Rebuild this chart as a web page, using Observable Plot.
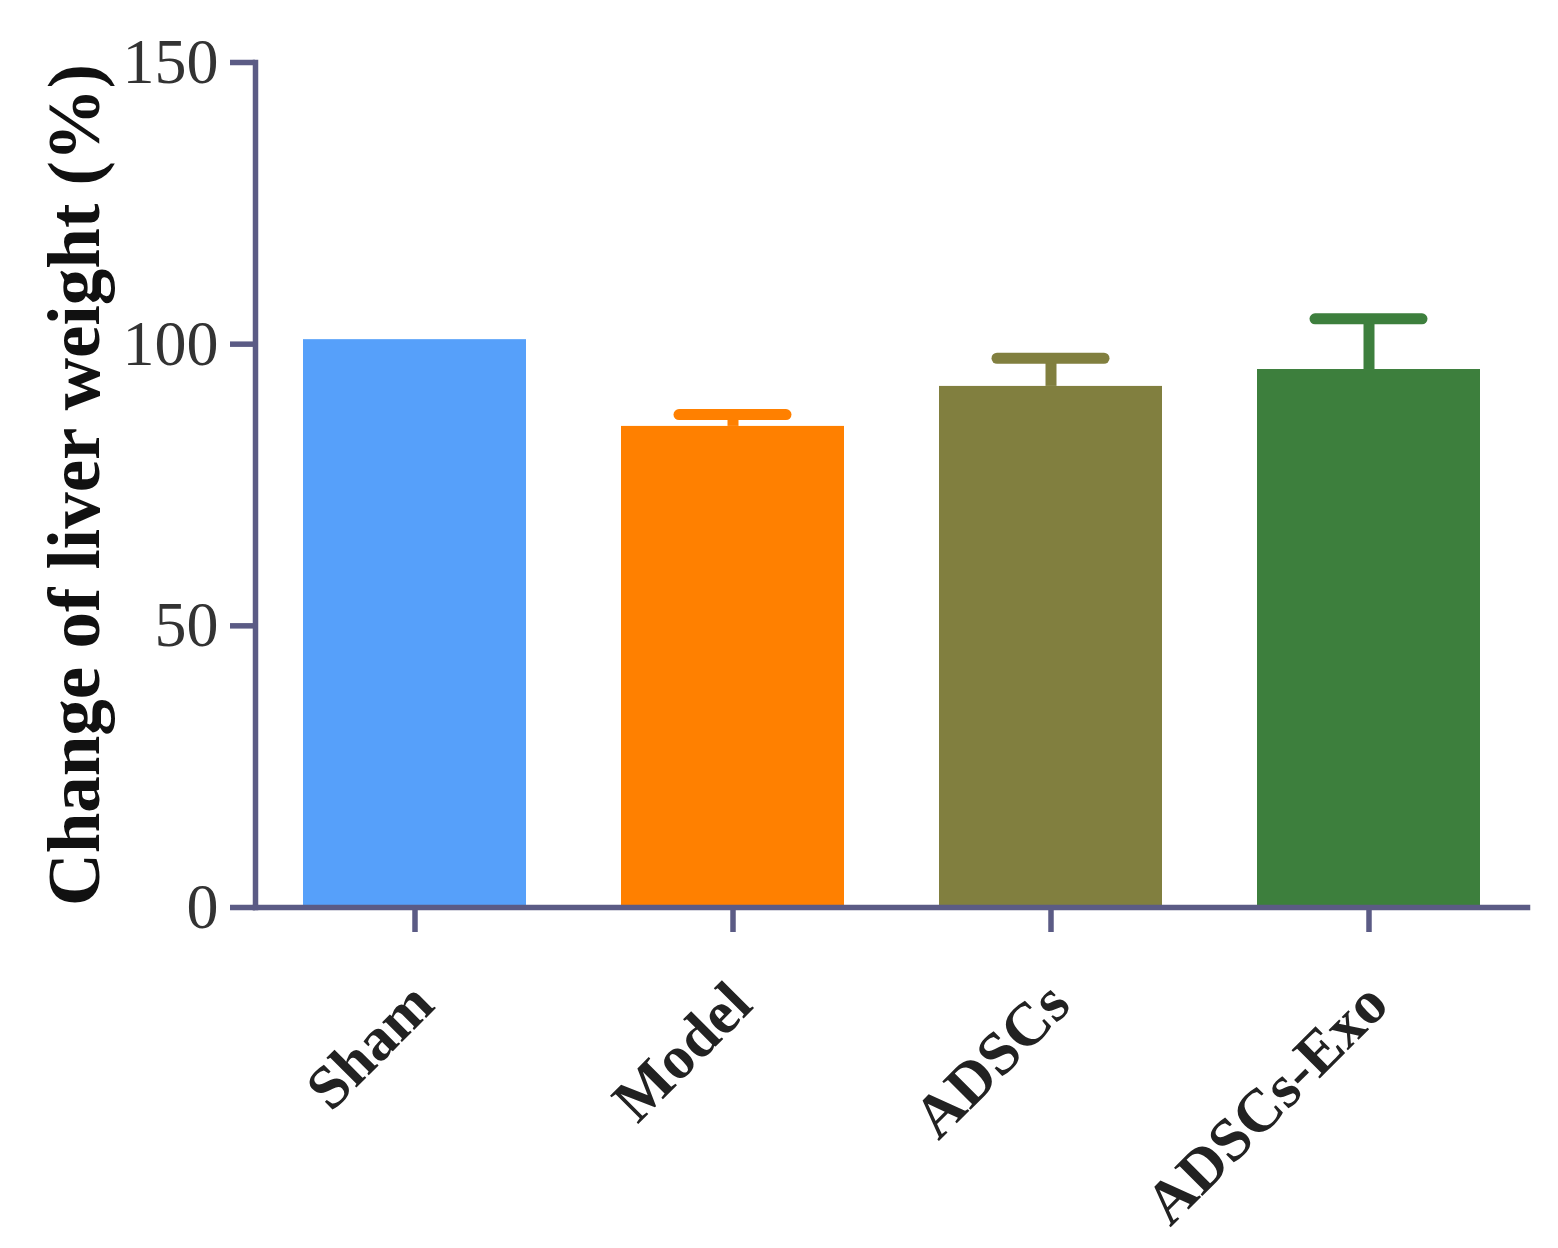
<!DOCTYPE html>
<html>
<head>
<meta charset="utf-8">
<script src="https://cdn.jsdelivr.net/npm/d3@7"></script>
<script src="https://cdn.jsdelivr.net/npm/@observablehq/plot@0.6"></script>
<style>
  html, body { margin: 0; padding: 0; background: #fff; }
  #chart { width: 1558px; height: 1248px; }
</style>
</head>
<body>
<div id="chart"></div>
<script>
// Data
const groups = ["Sham", "Model", "ADSCs", "ADSCs-Exo"];
const means  = [100.8, 85.4, 92.5, 95.5];
const errors = [0, 2.1, 5.0, 9.0];
const yTicks = [0, 50, 100, 150];
const palette = ["#56a0fa", "#ff8000", "#817f3f", "#3d7f3d"];
const yLabel = "Change of liver weight (%)";

const data = groups.map((g, i) => ({group: g, mean: means[i], upper: means[i] + errors[i], err: errors[i]}));
const withErr = data.filter(d => d.err > 0);

const axisColor = "#5b5b85";
const serif = "'Liberation Serif', 'Times New Roman', serif";

const chart = Plot.plot({
  width: 1558,
  height: 1248,
  marginLeft: 255,
  marginRight: 31,
  marginTop: 62,
  marginBottom: 341,
  style: {fontFamily: serif, background: "#fff"},
  x: {domain: groups, paddingInner: 0.3, paddingOuter: 0.15, axis: null},
  y: {domain: [0, 150], axis: null},
  color: {domain: groups, range: palette},
  marks: [
    Plot.barY(data, {x: "group", y: "mean", fill: "group"}),
    Plot.ruleX(withErr, {x: "group", y1: "mean", y2: "upper", stroke: "group", strokeWidth: 11}),
    Plot.tickY(withErr, {x: "group", y: "upper", stroke: "group", strokeWidth: 11, strokeLinecap: "round", inset: 58}),
    Plot.axisY({ticks: yTicks, tickSize: 25, tickPadding: 12, stroke: axisColor, strokeWidth: 5.5,
                fontSize: 64, fill: "#333", label: null, fontFamily: serif}),
    Plot.axisX({tickSize: 25, stroke: axisColor, strokeWidth: 5.5, tickFormat: () => "", label: null}),
    Plot.frame({anchor: "left", stroke: axisColor, strokeWidth: 5.5}),
    Plot.frame({anchor: "bottom", stroke: axisColor, strokeWidth: 5.5}),
    Plot.text(groups, {x: d => d, frameAnchor: "bottom", rotate: -45, textAnchor: "end", lineAnchor: "middle",
                       dx: 8, dy: 86, fontSize: 61, fontWeight: "bold", fill: "#222", fontFamily: serif}),
    Plot.text([yLabel], {frameAnchor: "left", rotate: -90, dx: -180, textAnchor: "middle", lineAnchor: "middle",
                         fontSize: 73, fontWeight: "bold", fill: "#111", fontFamily: serif})
  ]
});
document.getElementById("chart").appendChild(chart);
</script>
</body>
</html>
